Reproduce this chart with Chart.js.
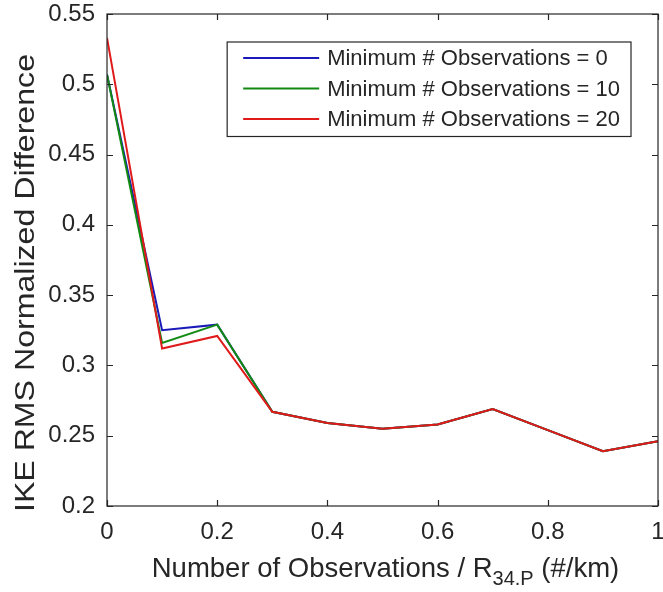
<!DOCTYPE html>
<html>
<head>
<meta charset="utf-8">
<script src="https://cdn.jsdelivr.net/npm/chart.js@4.4.1/dist/chart.umd.min.js"></script>
<style>
  html, body { margin: 0; padding: 0; background: #fff; }
  #wrap { width: 663px; height: 592px; }
</style>
</head>
<body>
<div id="wrap"><canvas id="chart" width="663" height="592"></canvas></div>
<script>
// observations per R34 (#/km)
const xValues = [0, 0.1, 0.2, 0.3, 0.4, 0.5, 0.6, 0.7, 0.8, 0.9, 1.0];

// IKE RMS normalized difference, one list per minimum-observation threshold
const minObs0  = [0.507, 0.325, 0.329, 0.267, 0.259, 0.255, 0.258, 0.269, 0.254, 0.239, 0.246];
const minObs10 = [0.507, 0.316, 0.329, 0.267, 0.259, 0.255, 0.258, 0.269, 0.254, 0.239, 0.246];
const minObs20 = [0.533, 0.312, 0.321, 0.267, 0.259, 0.255, 0.258, 0.269, 0.254, 0.239, 0.246];

const seriesLabels = ['Minimum # Observations = 0', 'Minimum # Observations = 10', 'Minimum # Observations = 20'];
const seriesColors = ['#1a1ab8', '#128a12', '#e01a1a'];

const xTicks = [0, 0.2, 0.4, 0.6, 0.8, 1];
const yTicks = [0.2, 0.25, 0.3, 0.35, 0.4, 0.45, 0.5, 0.55];

const FONT = "'Liberation Sans', Arial, sans-serif";
const INK = '#262626';

function toPoints(ys) {
    return xValues.map((x, i) => ({x: x, y: ys[i]}));
}

function fmt(v) {
    return String(Number(v.toFixed(2)));
}

// box round the axes, with inward ticks on all four sides (matlab style)
const axesBox = {
    id: 'axesBox',
    afterDatasetsDraw(chart) {
        const {ctx, chartArea: a, scales} = chart;
        const len = 6;
        ctx.save();
        ctx.strokeStyle = INK;
        ctx.lineWidth = 1.2;
        ctx.strokeRect(a.left, a.top, a.right - a.left, a.bottom - a.top);
        ctx.beginPath();
        xTicks.forEach(v => {
            const px = Math.round(scales.x.getPixelForValue(v)) + 0.5;
            ctx.moveTo(px, a.bottom); ctx.lineTo(px, a.bottom - len);
            ctx.moveTo(px, a.top); ctx.lineTo(px, a.top + len);
        });
        yTicks.forEach(v => {
            const py = Math.round(scales.y.getPixelForValue(v)) + 0.5;
            ctx.moveTo(a.left, py); ctx.lineTo(a.left + len, py);
            ctx.moveTo(a.right, py); ctx.lineTo(a.right - len, py);
        });
        ctx.stroke();
        ctx.restore();
    }
};

// legend box inside the top right corner
const boxLegend = {
    id: 'boxLegend',
    afterDraw(chart) {
        const {ctx, chartArea: a} = chart;
        ctx.save();
        ctx.font = '22px ' + FONT;
        const textW = Math.max(...seriesLabels.map(s => ctx.measureText(s).width));
        const lineLen = 76, padL = 16, gap = 8, padR = 11, rowH = 30.5;
        const w = padL + lineLen + gap + textW + padR;
        const h = rowH * seriesLabels.length + 3;
        const right = a.right - 27;
        const top = a.top + 28;
        const left = right - w;
        ctx.fillStyle = '#fff';
        ctx.fillRect(left, top, w, h);
        ctx.strokeStyle = INK;
        ctx.lineWidth = 1.2;
        ctx.strokeRect(left, top, w, h);
        ctx.textBaseline = 'middle';
        seriesLabels.forEach((label, i) => {
            const y = top + 16 + i * rowH;
            ctx.strokeStyle = seriesColors[i];
            ctx.lineWidth = 2;
            ctx.beginPath();
            ctx.moveTo(left + padL, y);
            ctx.lineTo(left + padL + lineLen, y);
            ctx.stroke();
            ctx.fillStyle = INK;
            ctx.fillText(label, left + padL + lineLen + gap, y + 1);
        });
        ctx.restore();
    }
};

// axis titles; the x title has a subscript
const axisTitles = {
    id: 'axisTitles',
    afterDraw(chart) {
        const {ctx, chartArea: a} = chart;
        ctx.save();
        ctx.fillStyle = INK;
        ctx.textBaseline = 'alphabetic';

        const main1 = 'Number of Observations / R';
        const sub = '34.P';
        const main2 = ' (#/km)';
        const big = '27.5px ' + FONT, small = '20px ' + FONT;
        ctx.font = big;
        const w1 = ctx.measureText(main1).width;
        const w3 = ctx.measureText(main2).width;
        ctx.font = small;
        const w2 = ctx.measureText(sub).width;
        let x = (a.left + a.right) / 2 + 3 - (w1 + w2 + w3) / 2;
        const base = 577;
        ctx.font = big;
        ctx.fillText(main1, x, base);
        x += w1;
        ctx.font = small;
        ctx.fillText(sub, x, base + 8);
        x += w2;
        ctx.font = big;
        ctx.fillText(main2, x, base);

        // y title, drawn a little wider along its baseline like the source
        const yTitle = 'IKE RMS Normalized Difference';
        ctx.font = '27px ' + FONT;
        const tw = ctx.measureText(yTitle).width;
        ctx.translate(34, 283);
        ctx.rotate(-Math.PI / 2);
        ctx.scale(458 / tw, 1);
        ctx.textAlign = 'center';
        ctx.fillText(yTitle, 0, 0);
        ctx.restore();
    }
};

new Chart(document.getElementById('chart'), {
    type: 'line',
    data: {
        datasets: [
            {label: seriesLabels[0], data: toPoints(minObs0), borderColor: seriesColors[0], order: 3},
            {label: seriesLabels[1], data: toPoints(minObs10), borderColor: seriesColors[1], order: 2},
            {label: seriesLabels[2], data: toPoints(minObs20), borderColor: seriesColors[2], order: 1}
        ]
    },
    options: {
        responsive: false,
        animation: false,
        devicePixelRatio: 1,
        elements: {
            line: {borderWidth: 2, tension: 0, fill: false},
            point: {radius: 0, hoverRadius: 0}
        },
        layout: {padding: {top: 14, right: 5, left: 0, bottom: 0}},
        plugins: {
            legend: {display: false},
            tooltip: {enabled: false}
        },
        scales: {
            x: {
                type: 'linear',
                min: 0,
                max: 1,
                grid: {display: false, drawTicks: false},
                border: {display: false},
                afterBuildTicks: s => { s.ticks = xTicks.map(v => ({value: v})); },
                afterFit: s => { s.height = 86; s.paddingLeft = 0; s.paddingRight = 0; },
                ticks: {
                    padding: 12,
                    color: INK,
                    font: {family: FONT, size: 24},
                    maxRotation: 0,
                    autoSkip: false,
                    callback: v => fmt(v)
                }
            },
            y: {
                type: 'linear',
                min: 0.2,
                max: 0.55,
                grid: {display: false, drawTicks: false},
                border: {display: false},
                afterBuildTicks: s => { s.ticks = yTicks.map(v => ({value: v})); },
                afterFit: s => { s.width = 107; s.paddingTop = 0; s.paddingBottom = 0; },
                ticks: {
                    padding: 12,
                    color: INK,
                    font: {family: FONT, size: 24},
                    autoSkip: false,
                    callback: v => fmt(v)
                }
            }
        }
    },
    plugins: [axesBox, boxLegend, axisTitles]
});
</script>
</body>
</html>
